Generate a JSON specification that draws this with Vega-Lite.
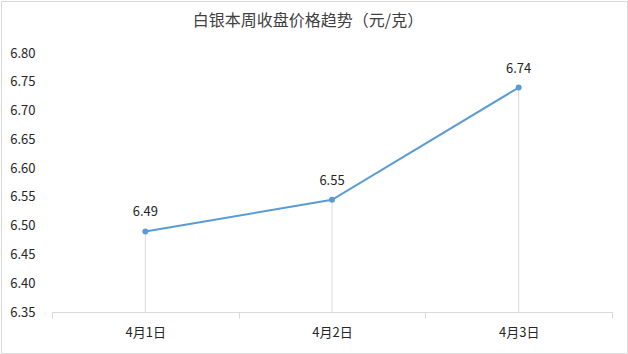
{
  "$schema": "https://vega.github.io/schema/vega-lite/v6.json",
  "autosize": "none",
  "width": 626,
  "height": 352,
  "padding": 1,
  "background": "white",
  "config": {
    "view": {"stroke": "#d9d9d9", "strokeWidth": 1},
    "font": "Noto Sans CJK SC",
    "axis": {"labelOverlap": false}
  },
  "title": {
    "text": "白银本周收盘价格趋势（元/克）",
    "fontSize": 16,
    "fontWeight": "normal",
    "color": "#404040",
    "offset": -28,
    "anchor": "middle",
    "dx": -6
  },
  "data": {
    "values": [
      {"date": "4月1日", "price": 6.49, "label": "6.49", "base": 6.35},
      {"date": "4月2日", "price": 6.545, "label": "6.55", "base": 6.35},
      {"date": "4月3日", "price": 6.74, "label": "6.74", "base": 6.35}
    ]
  },
  "encoding": {
    "x": {
      "field": "date",
      "type": "nominal",
      "sort": null,
      "scale": {"type": "band", "range": [51, 611], "paddingInner": 0, "paddingOuter": 0},
      "axis": {
        "title": null,
        "orient": "bottom",
        "offset": -41,
        "labelAngle": 0,
        "tickBand": "extent",
        "domainColor": "#d9d9d9",
        "tickColor": "#d9d9d9",
        "tickSize": 6,
        "labelFontSize": 13,
        "labelColor": "#262626",
        "labelPadding": 8,
        "grid": false
      }
    },
    "y": {
      "field": "price",
      "type": "quantitative",
      "scale": {"domain": [6.35, 6.8], "range": [311, 52], "nice": false, "zero": false},
      "axis": {
        "title": null,
        "orient": "left",
        "offset": -36,
        "labelPadding": 2,
        "values": [6.35, 6.4, 6.45, 6.5, 6.55, 6.6, 6.65, 6.7, 6.75, 6.8],
        "format": ".2f",
        "labelOverlap": false,
        "labelFlush": false,
        "domain": false,
        "ticks": false,
        "grid": false,
        "labelFontSize": 13,
        "labelColor": "#262626"
      }
    }
  },
  "layer": [
    {
      "mark": {"type": "rule", "color": "#d9d9d9", "strokeWidth": 1},
      "encoding": {
        "y2": {"field": "base"}
      }
    },
    {
      "mark": {"type": "line", "color": "#5b9bd5", "strokeWidth": 2, "point": {"filled": true, "size": 36, "color": "#5b9bd5"}}
    },
    {
      "mark": {"type": "text", "dy": -19, "fontSize": 13, "color": "#262626"},
      "encoding": {
        "text": {"field": "label"}
      }
    }
  ]
}
